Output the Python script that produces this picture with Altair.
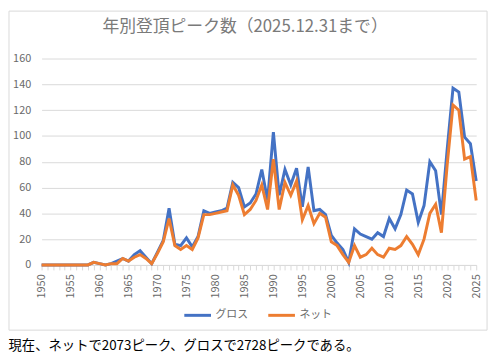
import altair as alt
import pandas as pd

years = list(range(1950, 2026))
gross = [0, 0, 0, 0, 0, 0, 0, 0, 0,
         2, 1, 0, 1, 3, 5, 3, 8, 11, 6, 1,
         10, 19, 44, 16, 15, 21, 14, 22, 42, 40,
         41, 42, 44, 64, 60, 45, 48, 55, 74, 50,
         103, 54, 74, 62, 75, 45, 76, 42, 43, 39,
         23, 17, 12, 2, 28, 24, 22, 20, 25, 22,
         36, 28, 39, 58, 55, 33, 46, 80, 73, 39,
         90, 137, 134, 99, 94, 65]
net = [0, 0, 0, 0, 0, 0, 0, 0, 0,
       2, 1, 0, 1, 1, 5, 3, 6, 8, 5, 1,
       9, 18, 36, 15, 12, 15, 12, 21, 39, 39,
       40, 41, 42, 62, 54, 39, 43, 50, 62, 43,
       82, 43, 64, 54, 65, 35, 46, 32, 40, 37,
       18, 15, 8, 2, 15, 6, 8, 13, 8, 6,
       13, 12, 15, 22, 16, 8, 20, 40, 47, 25,
       78, 124, 120, 82, 84, 50]
series_names = ["グロス", "ネット"]
series_colors = ["#4472C4", "#ED7D31"]
y_ticks = [0, 20, 40, 60, 80, 100, 120, 140, 160]
title_text = "年別登頂ピーク数（2025.12.31まで）"
caption_text = "現在、ネットで2073ピーク、グロスで2728ピークである。"

df = pd.DataFrame({
    "year": years * 2,
    "value": gross + net,
    "series": [series_names[0]] * len(years) + [series_names[1]] * len(years),
})

font = "Noto Sans CJK JP"
gray = "#6a6a6a"
light = "#d9d9d9"

one = pd.DataFrame({"t": [title_text]})

box = alt.Chart(one).mark_rect(
    fill="#ffffff", fillOpacity=0, stroke=light, strokeOpacity=1, strokeWidth=1
).encode(
    x=alt.value(-33), x2=alt.value(451), y=alt.value(-48), y2=alt.value(275)
)

title = alt.Chart(one).mark_text(
    font=font, fontSize=17, color="#7a7a7a", align="center", baseline="middle"
).encode(
    text="t:N", x=alt.value(206), y=alt.value(-32)
)

lines = alt.Chart(df).mark_line(strokeWidth=3).encode(
    x=alt.X(
        "year:Q",
        scale=alt.Scale(domain=[1950, 2025], nice=False, zero=False),
        axis=alt.Axis(
            values=years,
            labelExpr="datum.value % 5 == 0 ? datum.label : ''",
            format="d",
            labelAngle=270,
            labelAlign="right",
            labelBaseline="middle",
            labelFontSize=11,
            labelColor=gray,
            labelFont=font,
            labelPadding=4,
            tickSize=5,
            tickColor=light,
            domainColor=light,
            grid=False,
            labelOverlap=False,
            title=caption_text,
            titleFont=font,
            titleFontSize=13.5,
            titleFontWeight="normal",
            titleColor="#000000",
            titleAnchor="start",
            titleAlign="left",
            titleBaseline="middle",
            titleX=-34,
            titleY=82,
        ),
    ),
    y=alt.Y(
        "value:Q",
        scale=alt.Scale(domain=[0, 160], nice=False),
        axis=alt.Axis(
            values=y_ticks,
            title=None,
            domain=False,
            ticks=False,
            labelFontSize=11,
            labelColor=gray,
            labelFont=font,
            labelPadding=11,
            gridColor=light,
        ),
    ),
    color=alt.Color(
        "series:N",
        scale=alt.Scale(domain=series_names, range=series_colors),
        legend=alt.Legend(
            title=None,
            orient="none",
            legendX=143,
            legendY=245,
            direction="horizontal",
            symbolType="stroke",
            symbolSize=729,
            symbolStrokeWidth=3,
            labelFont=font,
            labelFontSize=11,
            labelColor=gray,
            columnPadding=14,
            labelOffset=3,
        ),
    ),
)

chart = alt.layer(box, title, lines).properties(
    width=440,
    height=209,
    autosize=alt.AutoSizeParams(type="none"),
    padding={"left": 34, "top": 49, "right": 16, "bottom": 88},
).configure_view(stroke=None)

chart.save("out.html", embed_options={"renderer": "svg", "actions": False})
